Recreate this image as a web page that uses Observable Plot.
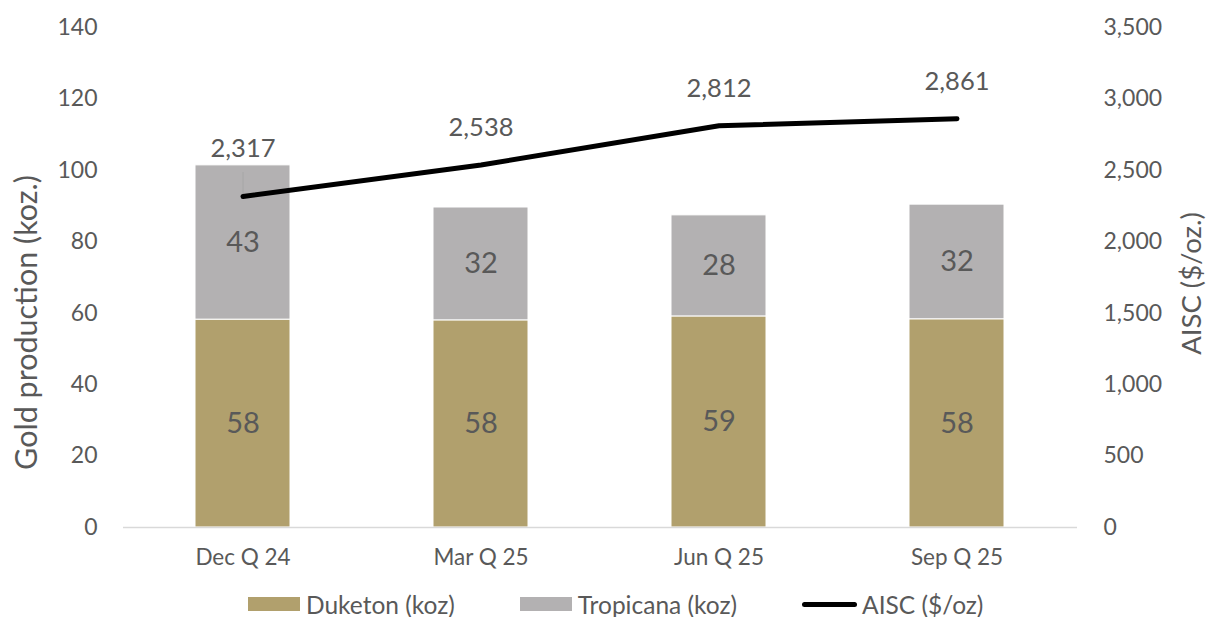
<!DOCTYPE html>
<html><head><meta charset="utf-8">
<script src="https://cdn.jsdelivr.net/npm/d3@7"></script>
<script src="https://cdn.jsdelivr.net/npm/@observablehq/plot@0.6"></script>
<style>
body{margin:0;background:#fff;font-family:Lato,"Open Sans",sans-serif;}
#wrap{position:relative;width:1206px;height:617px;}
#legend{position:absolute;top:589px;left:248px;display:flex;align-items:center;height:30px;font-size:24.5px;color:#595959;}
.sw{width:52px;height:14px;margin-right:6px;}
.ln{width:55px;height:5px;background:#000;border-radius:3px;margin-right:5px;}
.item{display:flex;align-items:center;margin-right:65px;}
</style></head>
<body><div id="wrap"><div id="chart"></div>
<div id="legend"></div></div>
<script>
const quarters = ["Dec Q 24", "Mar Q 25", "Jun Q 25", "Sep Q 25"];
const duketon = [58.2, 58.0, 59.1, 58.3];
const tropicana = [43.2, 31.6, 28.3, 32.1];
const aisc = [2317, 2538, 2812, 2861];
const seriesNames = ["Duketon (koz)", "Tropicana (koz)", "AISC ($/oz)"];
const leftTitle = "Gold production (koz.)";
const rightTitle = "AISC ($/oz.)";
const leftTicks = [0, 20, 40, 60, 80, 100, 120, 140];
const rightTicks = [0, 500, 1000, 1500, 2000, 2500, 3000, 3500];
const colors = ["#B1A06D", "#B3B1B2", "#000000"];
const ratio = 3500 / 140;

const bars = [];
quarters.forEach((q, i) => {
  bars.push({q, series: seriesNames[0], value: duketon[i]});
  bars.push({q, series: seriesNames[1], value: tropicana[i]});
});
const line = quarters.map((q, i) => ({q, aisc: aisc[i], idx: i}));
const fmt = d3.format(",");
const txt = "#595959";

const chart = Plot.plot({
  width: 1206, height: 580,
  marginLeft: 123, marginRight: 129, marginTop: 27, marginBottom: 53,
  style: {fontFamily: "Lato, 'Open Sans', sans-serif", color: txt, background: "#fff"},
  x: {domain: quarters, paddingInner: 0.6, paddingOuter: 0.3, label: null},
  y: {domain: [0, 140]},
  color: {domain: seriesNames.slice(0, 2), range: colors.slice(0, 2)},
  marks: [
    Plot.barY(bars, Plot.stackY({x: "q", y: "value", fill: "series", order: seriesNames, stroke: "#fff", strokeWidth: 1})),
    Plot.text(bars, Plot.stackY({x: "q", y: "value", z: "series", order: seriesNames, text: d => Math.round(d.value), fill: txt, fontSize: 29})),
    Plot.ruleY([0], {stroke: "#D9D9D9", strokeWidth: 1.5}),
    Plot.axisX({tickSize: 0, tickPadding: 22, fontSize: 22.5, fill: txt, label: null}),
    Plot.axisY(leftTicks, {anchor: "left", tickSize: 0, tickPadding: 26, fontSize: 23, fill: txt, label: null}),
    Plot.axisY(rightTicks.map(d => d / ratio), {anchor: "right", tickSize: 0, tickPadding: 26, fontSize: 23, fill: txt,
      tickFormat: d => fmt(Math.round(d * ratio)), label: null}),
    Plot.text([leftTitle], {frameAnchor: "left", textAnchor: "middle", rotate: -90, dx: -96, dy: 45, fontSize: 30.5, fill: txt, text: d => d}),
    Plot.text([rightTitle], {frameAnchor: "right", textAnchor: "middle", rotate: -90, dx: 115, dy: 6, fontSize: 27.5, fill: txt, text: d => d}),
    Plot.ruleX(line.filter(d => d.idx === 0), {x: "q", y1: d => d.aisc / ratio, y2: d => d.aisc / ratio, insetTop: -24, stroke: "#A6A6A6", strokeWidth: 1}),
    Plot.line(line, {x: "q", y: d => d.aisc / ratio, stroke: colors[2], strokeWidth: 5, strokeLinecap: "round", strokeLinejoin: "round"}),
    Plot.text(line.filter(d => d.idx === 0), {x: "q", y: d => d.aisc / ratio, text: d => fmt(d.aisc), dy: -48, fontSize: 25.5, fill: txt}),
    Plot.text(line.filter(d => d.idx > 0), {x: "q", y: d => d.aisc / ratio, text: d => fmt(d.aisc), dy: -37, fontSize: 25.5, fill: txt})
  ]
});
document.getElementById("chart").appendChild(chart);

const legend = document.getElementById("legend");
seriesNames.forEach((name, i) => {
  const item = document.createElement("div");
  item.className = "item";
  const sw = document.createElement("div");
  if (i < 2) { sw.className = "sw"; sw.style.background = colors[i]; }
  else { sw.className = "ln"; }
  const label = document.createElement("span");
  label.textContent = name;
  item.appendChild(sw); item.appendChild(label);
  legend.appendChild(item);
});
</script></body></html>
